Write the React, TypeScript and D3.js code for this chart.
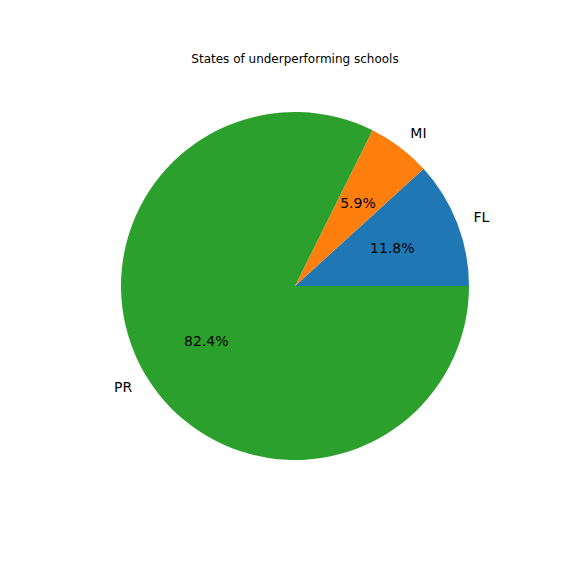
import * as d3 from 'd3';

const categories = ['FL', 'MI', 'PR'];
const counts = [2, 1, 14];
const colors = ['#1f77b4', '#ff7f0e', '#2ca02c'];
const title = 'States of underperforming schools';

const App = () => {
  const cx = 295;
  const cy = 286;
  const r = 174;

  // matplotlib: start at east, go counterclockwise
  const pie = d3.pie<number>().sort(null).startAngle(Math.PI / 2).endAngle(Math.PI / 2 - 2 * Math.PI);
  const arcs = pie(counts);
  const arc = d3.arc<d3.PieArcDatum<number>>().innerRadius(0).outerRadius(r);
  const total = d3.sum(counts);

  return (
    <svg width={576} height={576} style={{ position: 'absolute', left: 0, top: 0, background: '#fff' }}
      fontFamily="DejaVu Sans">
      <text x={295} y={63} textAnchor="middle" fontSize={12}>{title}</text>
      <g transform={`translate(${cx},${cy})`}>
        {arcs.map((a, i) => (
          <path key={i} d={arc(a) || ''} fill={colors[i]} />
        ))}
        {arcs.map((a, i) => {
          const mid = (a.startAngle + a.endAngle) / 2;
          const lx = r * 1.1 * Math.sin(mid);
          const ly = -r * 1.1 * Math.cos(mid);
          const px = r * 0.6 * Math.sin(mid);
          const py = -r * 0.6 * Math.cos(mid);
          return (
            <g key={i}>
              <text x={lx} y={ly} dy="0.35em" fontSize={14} textAnchor={lx > 0 ? 'start' : 'end'}>
                {categories[i]}
              </text>
              <text x={px} y={py} dy="0.35em" fontSize={14} textAnchor="middle">
                {((counts[i] / total) * 100).toFixed(1)}%
              </text>
            </g>
          );
        })}
      </g>
    </svg>
  );
};

export default App;
